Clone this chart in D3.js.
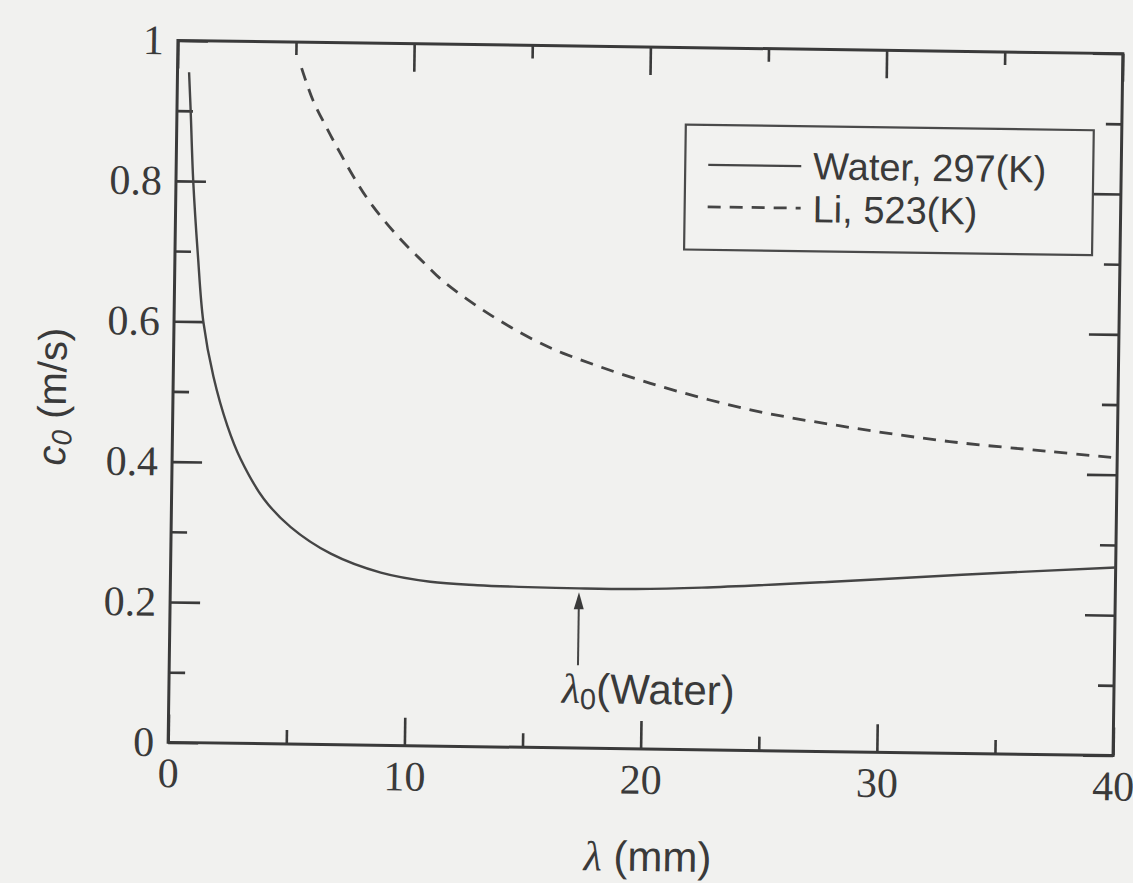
<!DOCTYPE html>
<html>
<head>
<meta charset="utf-8">
<script src="https://cdn.jsdelivr.net/npm/d3@7"></script>
<style>
  html, body { margin: 0; padding: 0; background: #f0f0ee; }
  svg { display: block; }
</style>
</head>
<body>
<svg id="chart" width="1133" height="883"></svg>
<script>
// ---- data ----
const waterLambda = [0.49, 0.58, 0.73, 0.97, 1.24, 1.70, 2.32, 2.9, 3.9, 5.06, 6.77, 8.9, 11.0, 13.0, 14.75, 17.3, 19.7, 22.5, 28.0, 33.5, 40];
const waterC      = [0.955, 0.90, 0.80, 0.695, 0.60, 0.522, 0.452, 0.405, 0.349, 0.309, 0.272, 0.246, 0.234, 0.230, 0.2285, 0.2275, 0.2277, 0.231, 0.242, 0.2545, 0.268];
const liLambda    = [5.25, 5.75, 6.37, 6.93, 7.5, 8.1, 8.8, 9.66, 10.52, 11.38, 12.4, 13.4, 14.37, 15.4, 16.5, 20.2, 24.5, 28.7, 32.9, 37.1, 40];
const liC         = [0.963, 0.9175, 0.877, 0.843, 0.810, 0.779, 0.749, 0.717, 0.689, 0.662, 0.637, 0.615, 0.596, 0.578, 0.562, 0.521, 0.485, 0.462, 0.444, 0.432, 0.424];
const seriesNames = ["Water, 297(K)", "Li, 523(K)"];
const xMajor = [0, 10, 20, 30, 40];
const xTickLabels = ["0", "10", "20", "30", "40"];
const xMinor = [5, 15, 25, 35];
const yMajor = [0, 0.2, 0.4, 0.6, 0.8, 1];
const yTickLabels = ["0", "0.2", "0.4", "0.6", "0.8", "1"];
const yMinor = [0.1, 0.3, 0.5, 0.7, 0.9];
const arrowLambda = 17.3;
const arrowFrom = 0.118, arrowTo = 0.222;

// ---- layout ----
const L = 173, T = 47, W = 945, H = 702;
const ink = "#3a3a3a";
const svg = d3.select("#chart");
svg.append("rect").attr("width", 1133).attr("height", 883).attr("fill", "#f1f1ef");
const g = svg.append("g").attr("transform", "rotate(0.8, 645, 398)");

const x = d3.scaleLinear().domain([0, 40]).range([L, L + W]);
const y = d3.scaleLinear().domain([0, 1]).range([T + H, T]);

function styleAxis(sel) {
  sel.select(".domain").remove();
  sel.selectAll(".tick line").attr("stroke", ink).attr("stroke-width", 2.6);
  sel.attr("font-family", "'Liberation Serif', 'Times New Roman', serif")
     .attr("font-size", 42);
  sel.selectAll(".tick text").attr("fill", ink);
}

// major axes
g.append("g").attr("transform", `translate(0,${T + H})`)
  .call(d3.axisBottom(x).tickValues(xMajor).tickFormat((d, i) => xTickLabels[i]).tickSize(-28).tickPadding(15))
  .call(styleAxis);
g.append("g").attr("transform", `translate(0,${T})`)
  .call(d3.axisTop(x).tickValues(xMajor).tickFormat("").tickSize(-28))
  .call(styleAxis);
g.append("g").attr("transform", `translate(${L},0)`)
  .call(d3.axisLeft(y).tickValues(yMajor).tickFormat((d, i) => yTickLabels[i]).tickSize(-30).tickPadding(14))
  .call(styleAxis);
g.append("g").attr("transform", `translate(${L + W},0)`)
  .call(d3.axisRight(y).tickValues(yMajor).tickFormat("").tickSize(-30))
  .call(styleAxis);
// minor axes
g.append("g").attr("transform", `translate(0,${T + H})`)
  .call(d3.axisBottom(x).tickValues(xMinor).tickFormat("").tickSize(-14)).call(styleAxis);
g.append("g").attr("transform", `translate(0,${T})`)
  .call(d3.axisTop(x).tickValues(xMinor).tickFormat("").tickSize(-13)).call(styleAxis);
g.append("g").attr("transform", `translate(${L},0)`)
  .call(d3.axisLeft(y).tickValues(yMinor).tickFormat("").tickSize(-16)).call(styleAxis);
g.append("g").attr("transform", `translate(${L + W},0)`)
  .call(d3.axisRight(y).tickValues(yMinor).tickFormat("").tickSize(-16)).call(styleAxis);

// frame
g.append("rect").attr("x", L).attr("y", T).attr("width", W).attr("height", H)
  .attr("fill", "none").attr("stroke", ink).attr("stroke-width", 3);

// curves
const line = d3.line().x(d => x(d[0])).y(d => y(d[1])).curve(d3.curveCatmullRom.alpha(0.5));
const water = waterLambda.map((l, i) => [l, waterC[i]]);
const li = liLambda.map((l, i) => [l, liC[i]]);
g.append("path").datum(water).attr("d", line)
  .attr("fill", "none").attr("stroke", "#454545").attr("stroke-width", 2.4);
g.append("path").datum(li).attr("d", line)
  .attr("fill", "none").attr("stroke", "#454545").attr("stroke-width", 2.8)
  .attr("stroke-dasharray", "13,9");

// legend
const lg = g.append("g");
lg.append("rect").attr("x", 682).attr("y", 124).attr("width", 408).attr("height", 125)
  .attr("fill", "#f2f2f0").attr("stroke", "#4a4a4a").attr("stroke-width", 2.2);
lg.append("line").attr("x1", 705).attr("x2", 798).attr("y1", 164).attr("y2", 164)
  .attr("stroke", "#454545").attr("stroke-width", 2.4);
lg.append("line").attr("x1", 705).attr("x2", 798).attr("y1", 206).attr("y2", 206)
  .attr("stroke", "#454545").attr("stroke-width", 2.8).attr("stroke-dasharray", "13,9");
lg.selectAll("text.leg").data(seriesNames).join("text").attr("class", "leg")
  .attr("x", 810).attr("y", (d, i) => 177 + i * 43)
  .attr("font-family", "'Liberation Sans', Arial, sans-serif").attr("font-size", 38)
  .attr("fill", ink).text(d => d);

// arrow annotation
const ax = x(arrowLambda);
g.append("line").attr("x1", ax).attr("x2", ax).attr("y1", y(arrowFrom)).attr("y2", y(arrowTo) + 12)
  .attr("stroke", "#454545").attr("stroke-width", 2);
g.append("path")
  .attr("d", `M${ax},${y(arrowTo)} L${ax - 5},${y(arrowTo) + 17} L${ax + 5},${y(arrowTo) + 17} Z`)
  .attr("fill", "#3a3a3a");
const ann = g.append("text").attr("x", 566).attr("y", 704)
  .attr("font-family", "'Liberation Sans', Arial, sans-serif").attr("font-size", 42).attr("fill", ink);
ann.append("tspan").attr("font-family", "'Liberation Serif', serif").attr("font-style", "italic").text("λ");
ann.append("tspan").attr("font-size", 29).attr("dy", 6).text("0");
ann.append("tspan").attr("dy", -6).text("(Water)");

// axis titles
const xt = g.append("text").attr("x", 654).attr("y", 871).attr("text-anchor", "middle")
  .attr("font-family", "'Liberation Sans', Arial, sans-serif").attr("font-size", 42).attr("fill", ink);
xt.append("tspan").attr("font-family", "'Liberation Serif', serif").attr("font-style", "italic").text("λ");
xt.append("tspan").text(" (mm)");

const yt = g.append("text").attr("transform", "translate(66,405) rotate(-90)").attr("text-anchor", "middle")
  .attr("font-family", "'Liberation Sans', Arial, sans-serif").attr("font-size", 40).attr("fill", ink);
yt.append("tspan").attr("font-style", "italic").text("c");
yt.append("tspan").attr("font-style", "italic").attr("font-size", 28).attr("dy", 6).text("0");
yt.append("tspan").attr("dy", -6).text(" (m/s)");
</script>
</body>
</html>
